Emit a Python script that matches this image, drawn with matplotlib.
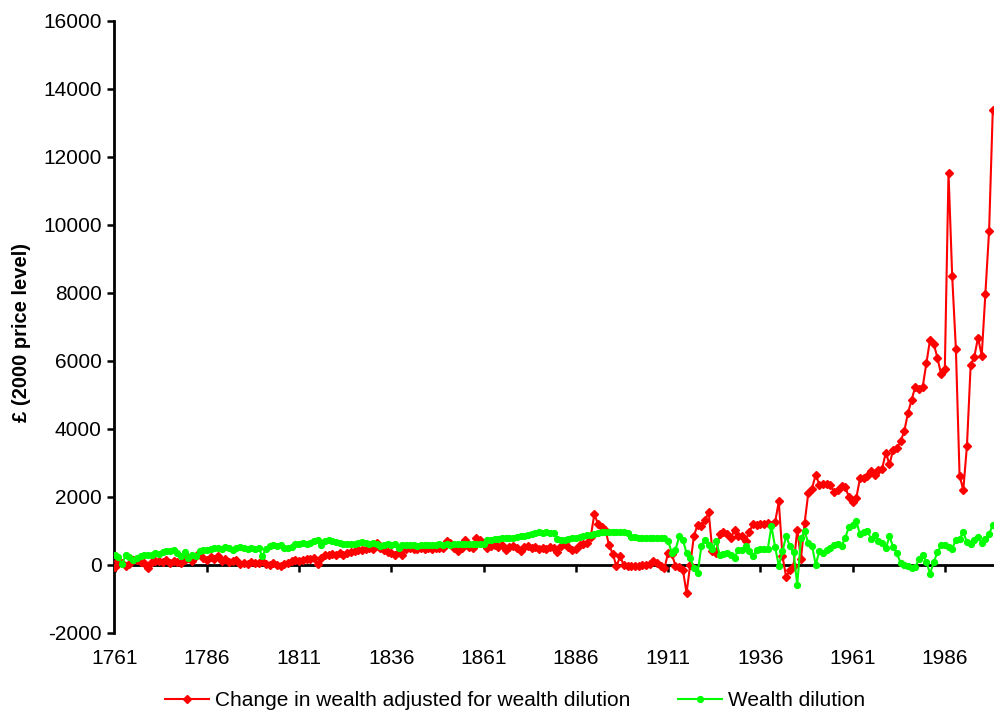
import matplotlib
matplotlib.use("Agg")
import matplotlib.pyplot as plt
from matplotlib.lines import Line2D

years = list(range(1761, 2000))

change_adjusted = (
    [-60, 120, 60, -40, 20, 150, 130, 90, 50, -110] +          # 1761-1770
    [80, 100, 120, 90, 150, 60, 120, 80, 60, 150] +            # 1771-1780
    [200, 120, 250, 380, 200, 150, 220, 180, 250, 120] +       # 1781-1790
    [170, 80, 100, 150, 30, 60, 20, 80, 40, 50] +              # 1791-1800
    [120, 30, -20, 50, 0, -40, 20, 60, 120, 140] +             # 1801-1810
    [100, 150, 180, 160, 190, 20, 200, 300, 280, 320] +        # 1811-1820
    [300, 330, 300, 350, 380, 400, 440, 420, 460, 500] +       # 1821-1830
    [450, 640, 480, 420, 380, 350, 300, 380, 300, 460] +       # 1831-1840
    [480, 450, 470, 490, 470, 480, 460, 490, 480, 500] +       # 1841-1850
    [690, 650, 490, 390, 500, 735, 520, 490, 785, 735] +       # 1851-1860
    [600, 490, 560, 590, 520, 570, 440, 520, 540, 500] +       # 1861-1870
    [390, 510, 540, 490, 520, 460, 500, 450, 520, 480] +       # 1871-1880
    [370, 560, 620, 520, 420, 470, 570, 620, 650, 810] +       # 1881-1890
    [1480, 1200, 1110, 1030, 570, 320, -50, 245, -20, -30] +   # 1891-1900
    [-30, -40, -30, -20, -20, 30, 100, 60, -30, -110] +        # 1901-1910
    [350, 310, -30, -70, -150, -830, 0, 850, 1180, 1130] +     # 1911-1920
    [1320, 1540, 390, 340, 910, 950, 910, 780, 1030, 850] +    # 1921-1930
    [850, 700, 960, 1200, 1180, 1200, 1200, 1230, 1180, 1250] +  # 1931-1940
    [1860, 245, -360, -150, -30, 1030, 170, 1230, 2110, 2240] +  # 1941-1950
    [2650, 2350, 2380, 2380, 2350, 2130, 2200, 2320, 2280, 2000] +  # 1951-1960
    [1830, 1960, 2540, 2550, 2600, 2770, 2650, 2800, 2820, 3300] +  # 1961-1970
    [2950, 3380, 3420, 3630, 3920, 4460, 4850, 5240, 5170, 5230] +  # 1971-1980
    [5930, 6620, 6500, 6080, 5600, 5750, 11530, 8480, 6340, 2620] +  # 1981-1990
    [2200, 3500, 5860, 6120, 6680, 6150, 7970, 9820, 13380]    # 1991-1999
)

wealth_dilution = (
    [290, 220, 20, 280, 230, 150, 200, 260, 280, 300] +        # 1761-1770
    [290, 330, 320, 380, 400, 390, 420, 350, 260, 380] +       # 1771-1780
    [200, 300, 260, 390, 420, 430, 460, 480, 500, 470] +       # 1781-1790
    [520, 480, 430, 490, 510, 480, 460, 490, 470, 500] +       # 1791-1800
    [250, 460, 540, 580, 560, 590, 500, 480, 510, 600] +       # 1801-1810
    [620, 640, 600, 650, 690, 735, 590, 700, 720, 700] +       # 1811-1820
    [680, 650, 620, 600, 610, 620, 640, 660, 640, 620] +       # 1821-1830
    [640, 600, 560, 580, 600, 590, 600, 500, 580, 590] +       # 1831-1840
    [570, 580, 560, 590, 580, 570, 590, 580, 600, 590] +       # 1841-1850
    [600, 590, 610, 600, 610, 600, 620, 610, 600, 620] +       # 1851-1860
    [610, 730, 740, 760, 760, 780, 790, 800, 800, 820] +       # 1861-1870
    [830, 850, 870, 900, 930, 950, 940, 950, 930, 940] +       # 1871-1880
    [760, 730, 740, 760, 780, 800, 820, 840, 860, 880] +       # 1881-1890
    [900, 930, 950, 960, 960, 960, 960, 950, 950, 940] +       # 1891-1900
    [820, 810, 800, 800, 800, 800, 800, 800, 790, 780] +       # 1901-1910
    [700, 350, 440, 830, 735, 340, 200, -100, -245, 540] +     # 1911-1920
    [735, 590, 460, 690, 295, 320, 340, 295, 200, 440] +       # 1921-1930
    [440, 540, 390, 265, 420, 460, 460, 460, 1130, 520] +      # 1931-1940
    [-30, 390, 850, 540, 360, -590, 780, 980, 640, 560] +      # 1941-1950
    [0, 400, 330, 420, 500, 570, 620, 560, 790, 1110] +        # 1951-1960
    [1160, 1300, 890, 960, 990, 770, 860, 700, 640, 480] +     # 1961-1970
    [830, 520, 340, 50, -20, -50, -90, -70, 175, 300] +        # 1971-1980
    [80, -265, 80, 370, 570, 570, 520, 470, 735, 765] +        # 1981-1990
    [960, 665, 600, 735, 810, 650, 765, 910, 1160]             # 1991-1999
)

x_ticks = list(range(1761, 1999, 25))
y_ticks = list(range(-2000, 16001, 2000))

labels = ["Change in wealth adjusted for wealth dilution", "Wealth dilution"]
red = "#FF0000"
green = "#00FF00"

plt.rcParams['font.family'] = ['Liberation Sans', 'DejaVu Sans']
plt.rcParams['axes.unicode_minus'] = False

FS = 15

fig = plt.figure(figsize=(9.95, 7.11), dpi=100)
ax = fig.add_axes([0.1149, 0.1101, 0.8851, 0.8608])

ax.plot(years, change_adjusted, color=red, lw=1.5, marker='D', ms=3.8,
        mec=red, mfc=red, zorder=3)
ax.plot(years, wealth_dilution, color=green, lw=1.5, marker='o', ms=4.2,
        mec=green, mfc=green, zorder=4)

ax.set_xlim(1760.9, 1999.6)
ax.set_ylim(-2000, 16000)
ax.set_yticks(y_ticks)
ax.tick_params(axis='y', direction='out', length=5, width=1.8, labelsize=FS, pad=4)

# horizontal axis crosses at zero
for s in ['top', 'right']:
    ax.spines[s].set_visible(False)
ax.spines['left'].set_linewidth(2)
ax.spines['bottom'].set_position(('data', 0))
ax.spines['bottom'].set_linewidth(2)
ax.spines['bottom'].set_zorder(2)
ax.set_xticks(x_ticks)
ax.tick_params(axis='x', direction='out', length=5, width=1.8, labelbottom=False)

# labels placed at the bottom of the plot area
sec = ax.secondary_xaxis(0)
sec.set_xticks(x_ticks)
sec.set_xticklabels([str(v) for v in x_ticks])
sec.tick_params(length=0, labelsize=FS, pad=12)
sec.spines['bottom'].set_visible(False)

ax.set_ylabel("£ (2000 price level)", fontsize=14.5, fontweight='bold')
ax.yaxis.set_label_coords(-0.095, 0.49)

handles = [Line2D([], [], color=red, lw=1.5, marker='D', ms=3.8),
           Line2D([], [], color=green, lw=1.5, marker='o', ms=4.2)]
fig.legend(handles, labels, loc='lower center', bbox_to_anchor=(0.518, -0.025),
           ncol=2, frameon=False, fontsize=FS, handlelength=2.1,
           handletextpad=0.3, columnspacing=2.3)

fig.savefig("out.png", dpi=100)
